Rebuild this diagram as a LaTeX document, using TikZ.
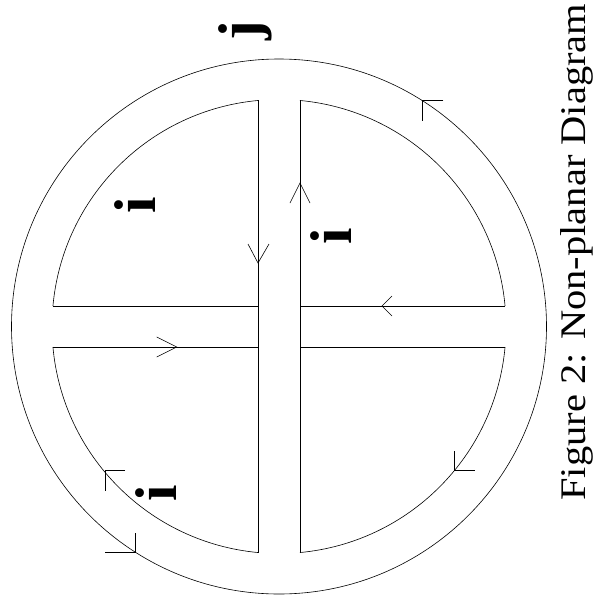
\documentclass[tikz,border=0pt]{standalone}
\usepackage{graphicx}
\usepackage{fontspec}
\setmainfont{Liberation Serif}
\begin{document}
\begin{tikzpicture}[x=1pt,y=-1pt,line width=0.6pt,
  lbl/.style={font=\fontsize{59}{62}\selectfont\bfseries,rotate=90,anchor=base,inner sep=0pt},
  captext/.style={font=\fontsize{36}{40}\selectfont,rotate=90,anchor=base west,inner sep=0pt},
  arr/.style={line width=0.6pt}]
\path[use as bounding box] (0,0) rectangle (594,598);
\coordinate (C) at (279,326.5);
% outer circle
\draw (C) circle[radius=267.5];
% vertical bar (passes over)
\coordinate (VLt) at (258,100.47);
\coordinate (VLb) at (258,552.53);
\coordinate (VRt) at (300,100.47);
\coordinate (VRb) at (300,552.53);
\draw (VLt) -- (VLb);
\draw (VRt) -- (VRb);
\draw[line width=1pt] (300,264) -- (300,316);
% horizontal bar pieces
\coordinate (HLu) at (52.93,306);
\coordinate (HLd) at (52.93,347);
\coordinate (HRu) at (505.07,306);
\coordinate (HRd) at (505.07,347);
\draw (HLu) -- (258,306);
\draw (HLd) -- (258,347);
\draw (300,306) -- (HRu);
\draw (300,347) -- (HRd);
% inner arcs
\draw (VLt) arc[start angle=264.69,end angle=185.18,radius=227];
\draw (VRt) arc[start angle=275.31,end angle=354.82,radius=227];
\draw (VRb) arc[start angle=84.69,end angle=5.18,radius=227];
\draw (VLb) arc[start angle=95.31,end angle=174.82,radius=227];
% arrowheads on bar lines
\draw[arr] (248,244) -- (258,263) -- (269,244);
\draw[arr] (290,203) -- (300,183) -- (310,203);
\draw[arr] (392,296) -- (382,306) -- (392,316);
\draw[arr] (156.7,337) -- (176.7,347) -- (156.7,357);
% arrowheads on circles
\draw[arr] (443.3,100.7) -- (422.7,100.7) -- (422.7,120.7);
\draw[arr] (105,552.5) -- (135,552.5) -- (135,533);
\draw[arr] (125,470.7) -- (105,470.7) -- (105,490.7);
\draw[arr] (474.7,470.7) -- (454.7,470.7) -- (454.7,450.7);
% labels
\node[lbl] (j) at (259,31) {j};
\node[lbl] (i1) at (155,205) {i};
\node[lbl] (i2) at (351.7,236) {i};
\node[lbl] (i3) at (176,493) {i};
% caption
\node[captext] (capt) at (585,501) {\scalebox{1.125}[1]{Figure 2: Non-planar Diagram}};
\end{tikzpicture}
\end{document}
